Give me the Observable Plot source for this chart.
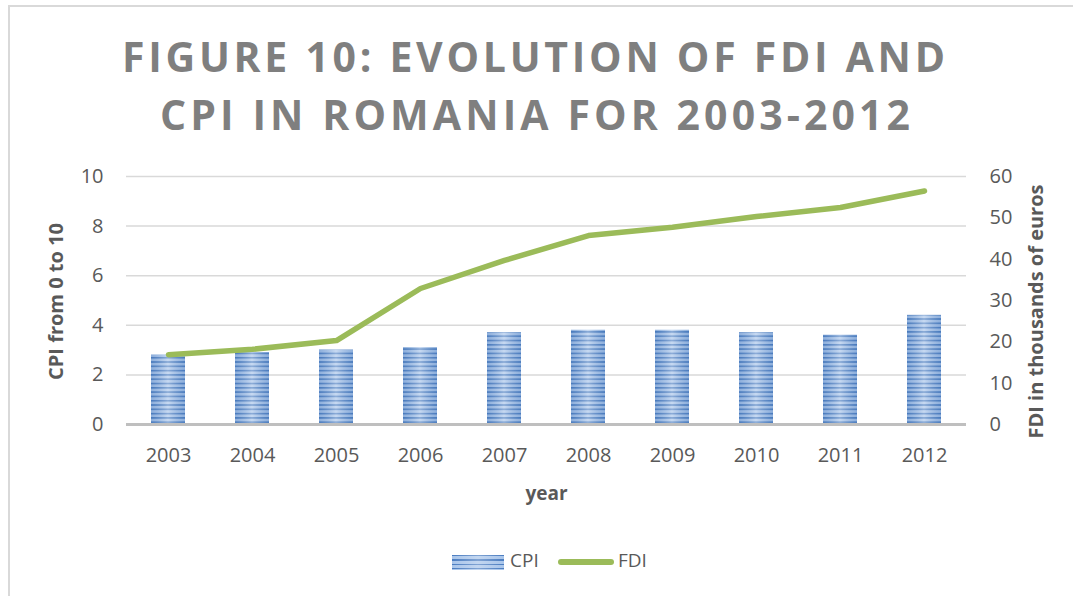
<!DOCTYPE html>
<html><head><meta charset="utf-8">
<script src="https://cdn.jsdelivr.net/npm/d3@7"></script>
<script src="https://cdn.jsdelivr.net/npm/@observablehq/plot@0.6"></script>
<style>
body{margin:0;background:#fff;}
#wrap{position:relative;width:1073px;height:596px;overflow:hidden;font-family:"Open Sans",sans-serif;background:#fff;}
#frame{position:absolute;left:8px;top:5px;width:2000px;height:2000px;border-top:2px solid #d9d9d9;border-left:2px solid #d9d9d9;}
#chart{position:absolute;left:0;top:0;}
#title{position:absolute;left:0;top:0;}
.leg{position:absolute;font-size:19px;color:#595959;line-height:1;}
#swCPI{position:absolute;left:452px;top:555px;width:52px;height:15px;
 background:repeating-linear-gradient(to bottom,#4a7cc0 0px,#4a7cc0 1.5px,#a9c5ea 1.5px,#a9c5ea 4.3px);}
#swCPI::after{content:"";position:absolute;inset:0;background:linear-gradient(to right,rgba(255,255,255,0),rgba(255,255,255,0.3),rgba(255,255,255,0));}
#swFDI{position:absolute;left:558px;top:559px;width:56px;height:6px;border-radius:3px;background:#9bbb59;}
</style>
</head><body>
<div id="wrap">
  <div id="frame"></div>
  <div id="chart"></div>
  <svg id="title" width="1073" height="160"></svg>
  <div id="swCPI"></div><div class="leg" style="left:510px;top:551px;">CPI</div>
  <div id="swFDI"></div><div class="leg" style="left:618px;top:551px;">FDI</div>
</div>
<script>
const years = ["2003","2004","2005","2006","2007","2008","2009","2010","2011","2012"];
const cpi = [2.8, 2.9, 3.0, 3.1, 3.7, 3.8, 3.8, 3.7, 3.6, 4.4];
const fdi = [16.9, 18.2, 20.3, 32.9, 39.7, 45.7, 47.7, 50.3, 52.5, 56.5];
const cpiTicks = [0, 2, 4, 6, 8, 10];
const fdiTicks = [0, 10, 20, 30, 40, 50, 60];
const cpiMax = 10, fdiMax = 60;
const ratio = cpiMax / fdiMax;

const data = years.map((y, i) => ({year: y, cpi: cpi[i], fdi: fdi[i]}));

const textColor = "#595959";

const plot = Plot.plot({
  width: 1073,
  height: 596,
  marginLeft: 126,
  marginRight: 107,
  marginTop: 176,
  marginBottom: 172,
  style: {fontFamily: "'Open Sans', sans-serif", color: textColor, background: "transparent", overflow: "visible"},
  x: {domain: years, padding: 0, axis: null},
  y: {domain: [0, cpiMax], axis: null},
  marks: [
    Plot.gridY(cpiTicks.filter(d => d > 0), {stroke: "#d9d9d9", strokeOpacity: 1, strokeWidth: 1.5}),
    Plot.barY(data, {x: "year", y: "cpi", fill: "url(#stripes)", insetLeft: 25, insetRight: 25}),
    Plot.barY(data, {x: "year", y: "cpi", fill: "url(#shine)", insetLeft: 25, insetRight: 25}),
    Plot.ruleY([0], {stroke: "#bfbfbf", strokeWidth: 3}),
    Plot.lineY(data, {x: "year", y: d => d.fdi * ratio, stroke: "#9bbb59", strokeWidth: 5.5, strokeLinecap: "round", strokeLinejoin: "round"}),
    Plot.axisX({anchor: "bottom", tickSize: 0, tickPadding: 23, fontSize: 20, label: null}),
    Plot.axisY({anchor: "left", ticks: cpiTicks, tickSize: 0, tickPadding: 23, fontSize: 20, label: null}),
    Plot.axisY({anchor: "right", ticks: fdiTicks.map(v => v * ratio), tickFormat: v => String(Math.round(v / ratio)), tickSize: 0, tickPadding: 23, fontSize: 20, label: null}),
    Plot.text(["CPI from 0 to 10"], {frameAnchor: "left", textAnchor: "middle", text: d => d, rotate: -90, dx: -70, dy: 1, fontSize: 20, fontWeight: "bold", fill: textColor}),
    Plot.text(["FDI in thousands of euros"], {frameAnchor: "right", textAnchor: "middle", text: d => d, rotate: -90, dx: 70, dy: 11, fontSize: 20, fontWeight: "bold", fill: textColor}),
    Plot.text(["year"], {frameAnchor: "bottom", text: d => d, dy: 75, fontSize: 19, fontWeight: "bold", fill: textColor})
  ]
});

const svg = d3.select(plot);
const defs = svg.insert("defs", ":first-child");
const pat = defs.append("pattern").attr("id", "stripes").attr("patternUnits", "userSpaceOnUse")
  .attr("width", 10).attr("height", 4.3);
pat.append("rect").attr("width", 10).attr("height", 4.3).attr("fill", "#a9c5ea");
pat.append("rect").attr("width", 10).attr("height", 1.6).attr("fill", "#4a7cc0");
const g = defs.append("linearGradient").attr("id", "shine").attr("x1", 0).attr("x2", 1).attr("y1", 0).attr("y2", 0);
g.append("stop").attr("offset", "0").attr("stop-color", "#3a6cb0").attr("stop-opacity", 0.25);
g.append("stop").attr("offset", "0.5").attr("stop-color", "#ffffff").attr("stop-opacity", 0.35);
g.append("stop").attr("offset", "1").attr("stop-color", "#3a6cb0").attr("stop-opacity", 0.25);

document.getElementById("chart").appendChild(plot);

// Title
const tsvg = d3.select("#title");
const titleLines = [
  {text: "FIGURE 10: EVOLUTION OF FDI AND", x: 533.5, y: 72, len: 823},
  {text: "CPI IN ROMANIA FOR 2003-2012", x: 535, y: 130, len: 750}
];
titleLines.forEach(l => {
  tsvg.append("text").attr("x", l.x).attr("y", l.y).attr("text-anchor", "middle")
    .attr("font-family", "'Open Sans', sans-serif").attr("font-weight", 700).attr("font-size", 41)
    .attr("fill", "#7f7f7f").attr("textLength", l.len).attr("lengthAdjust", "spacing")
    .text(l.text);
});
</script>
</body></html>
